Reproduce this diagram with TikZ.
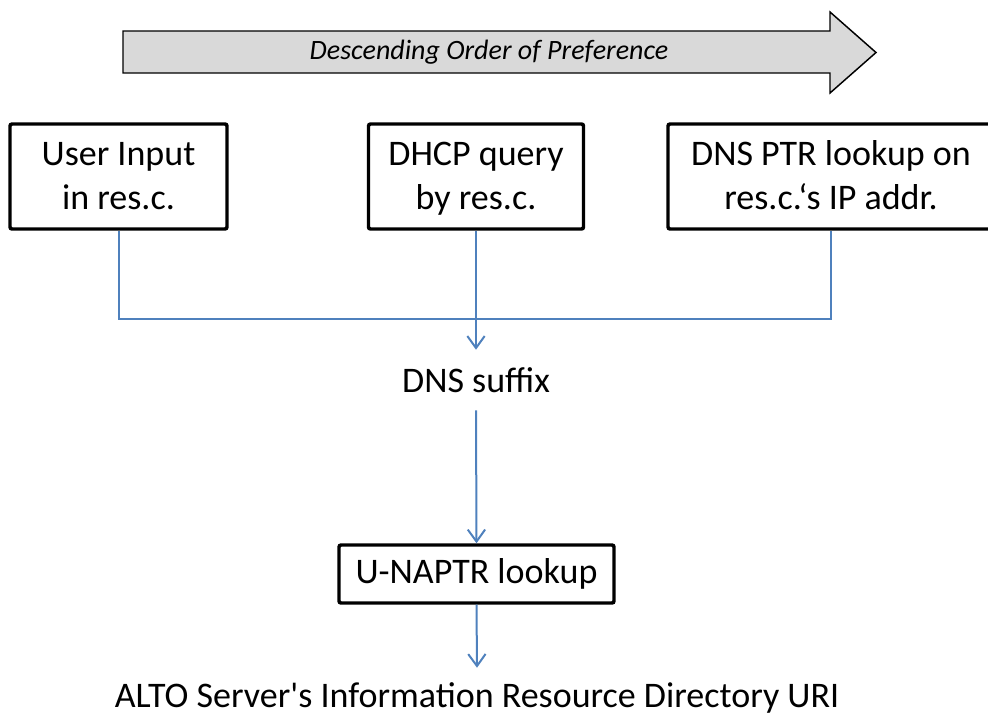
\documentclass[tikz,border=0pt]{standalone}
\usepackage{fontspec}
\setmainfont{Carlito}
\usetikzlibrary{arrows.meta,positioning,calc}
\definecolor{altoblue}{RGB}{79,129,189}
\definecolor{prefgray}{RGB}{217,217,217}
\newcommand{\lstrut}{\rule[-8pt]{0pt}{32pt}}
\tikzset{
  sbox/.style={rectangle, rounded corners=1.5pt, draw=black, line width=2.6pt,
               align=center, inner sep=0pt, font=\fontsize{27}{31.5}\selectfont},
  stxt/.style={inner sep=0pt, minimum height=45pt, font=\fontsize{27}{31.5}\selectfont},
  conn/.style={altoblue, line width=1.5pt},
  carr/.style={conn, -{Straight Barb[length=9pt,width=13pt,line width=1.5pt]}},
}

\begin{document}
\begin{tikzpicture}[x=0.75pt,y=-0.75pt]
  \useasboundingbox (0,0) rectangle (988,715);
  % preference arrow
  \draw[fill=prefgray, line width=1.1pt] (123,31) -- (830,31) -- (830,12) -- (876,52.5) -- (830,93) -- (830,73) -- (123,73) -- cycle;
  \node[font=\fontsize{21}{25}\selectfont\itshape] (pref) at (489,52) {Descending Order of Preference};
  % sources
  \node[sbox, minimum width=162.75pt, minimum height=78.75pt] (user) at (118.5,176.5) {\lstrut User Input\\\lstrut in res.c.};
  \node[sbox, minimum width=161.25pt, minimum height=78.75pt] (dhcp) at (476,176.5) {\lstrut DHCP query\\\lstrut by res.c.};
  \node[sbox, minimum width=244.5pt, minimum height=78.75pt] (ptr) at (831,176.5) {\lstrut DNS PTR lookup on\\\lstrut res.c.`s IP addr.};
  % results
  \node[stxt] (dns) at (476,380) {DNS suffix};
  \node[sbox, minimum width=206.25pt, minimum height=43.5pt] (naptr) at (476.5,574) {U-NAPTR lookup};
  \node[stxt] (uri) at (477,698) {ALTO Server\textquotesingle s Information Resource Directory URI};
  \coordinate (join) at (476,319);
  \draw[conn] (user.south) |- (join) -| (ptr.south);
  \draw[carr] (dhcp.south) -- (dns.north);
  \draw[carr] (dns.south) -- (naptr.north);
  \draw[carr] (naptr.south) -- (uri.north);
\end{tikzpicture}
\end{document}
